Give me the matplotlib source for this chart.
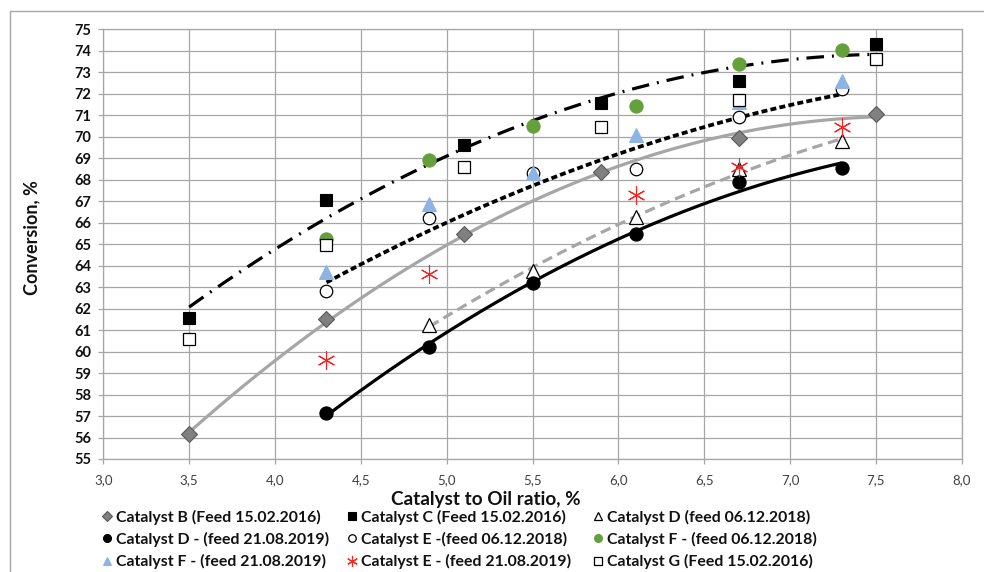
import numpy as np
import matplotlib
matplotlib.use("Agg")
import matplotlib.pyplot as plt
from matplotlib.lines import Line2D

plt.rcParams['font.family'] = ['Lato', 'DejaVu Sans']

# ---- data ----
x_six_a = [3.5, 4.3, 5.1, 5.9, 6.7, 7.5]
x_six_b = [4.3, 4.9, 5.5, 6.1, 6.7, 7.3]
b_y = [56.15, 61.5, 65.45, 68.35, 69.95, 71.05]
c_y = [61.55, 67.05, 69.6, 71.55, 72.6, 74.3]
g_y = [60.6, 64.95, 68.6, 70.45, 71.7, 73.6]
d06_x = [4.9, 5.5, 6.1, 6.7, 7.3]
d06_y = [61.25, 63.75, 66.25, 68.5, 69.8]
d21_y = [57.15, 60.2, 63.2, 65.45, 67.9, 68.55]
e06_y = [62.8, 66.2, 68.3, 68.5, 70.9, 72.2]
f06_y = [65.25, 68.9, 70.5, 71.45, 73.4, 74.05]
f21_y = [63.7, 66.85, 68.3, 70.1, 71.6, 72.6]
e21_x = [4.3, 4.9, 6.1, 6.7, 7.3]
e21_y = [59.6, 63.6, 67.3, 68.6, 70.45]

labels = ["Catalyst B (Feed 15.02.2016)", "Catalyst C (Feed 15.02.2016)",
          "Catalyst D (feed 06.12.2018)", "Catalyst D - (feed 21.08.2019)",
          "Catalyst E -(feed 06.12.2018)", "Catalyst F - (feed 06.12.2018)",
          "Catalyst F - (feed 21.08.2019)", "Catalyst E - (feed 21.08.2019)",
          "Catalyst G (Feed 15.02.2016)"]
x_ticks = [3.0, 3.5, 4.0, 4.5, 5.0, 5.5, 6.0, 6.5, 7.0, 7.5, 8.0]
y_ticks = list(range(55, 76))

W, H = 984, 572
fig = plt.figure(figsize=(W / 100, H / 100), dpi=100)
ax = fig.add_axes([103.3 / W, 1 - 459 / H, (961.7 - 103.3) / W, (459 - 29.3) / H])

GRID = '#a6a6a6'
LGRAY = '#a6a6a6'
TXT = '#111111'

# ---- trend lines (2nd order polynomial fits) ----
def trend(xs, ys, **kw):
    p = np.polyfit(xs, ys, 2)
    xx = np.linspace(min(xs), max(xs), 200)
    ax.plot(xx, np.polyval(p, xx), zorder=2, **kw)

trend(x_six_a, b_y, color=LGRAY, lw=2.3, solid_capstyle='butt')
trend(x_six_a, c_y, color='black', lw=2.3, linestyle=(0, (5.5, 2.5, 0.6, 2.5)), dash_capstyle='butt')
trend(d06_x, d06_y, color=LGRAY, lw=2.3, linestyle=(0, (3.3, 1.8)), dash_capstyle='butt')
trend(x_six_b, d21_y, color='black', lw=2.3, solid_capstyle='butt')
trend(x_six_b, e06_y, color='black', lw=2.7, linestyle=(0, (1.6, 0.85)), dash_capstyle='butt')

# ---- markers ----
styles = [
    dict(marker='D', ms=7.8, mfc='#808080', mec='#595959', mew=0.8),
    dict(marker='s', ms=9, mfc='black', mec='black', mew=0.8),
    dict(marker='^', ms=10, mfc='white', mec='black', mew=0.9),
    dict(marker='o', ms=9.5, mfc='black', mec='black', mew=0.8),
    dict(marker='o', ms=9, mfc='white', mec='black', mew=0.9),
    dict(marker='o', ms=9.5, mfc='#64a03c', mec='#64a03c', mew=0.8),
    dict(marker='^', ms=10.5, mfc='#8db4e2', mec='#8db4e2', mew=0.8),
    dict(marker=(6, 2, 0), ms=13, mfc='#ff2020', mec='#ff2020', mew=0.8),
    dict(marker='s', ms=9, mfc='white', mec='black', mew=0.9),
]
series = [(x_six_a, b_y), (x_six_a, c_y), (d06_x, d06_y), (x_six_b, d21_y),
          (x_six_b, e06_y), (x_six_b, f06_y), (x_six_b, f21_y), (e21_x, e21_y),
          (x_six_a, g_y)]
for (xs, ys), st in zip(series, styles):
    ax.plot(xs, ys, linestyle='none', zorder=3, **st)

# ---- axes ----
ax.set_xlim(3, 8)
ax.set_ylim(55, 75)
ax.set_xticks(x_ticks)
ax.set_xticklabels([f"{v:.1f}".replace('.', ',') for v in x_ticks])
ax.set_yticks(y_ticks)
ax.set_yticklabels([str(v) for v in y_ticks])
ax.grid(True, color=GRID, lw=0.9)
ax.set_axisbelow(True)
for s in ax.spines.values():
    s.set_color(GRID)
    s.set_linewidth(0.9)
ax.tick_params(axis='both', direction='out', length=3.8, width=0.9, color=GRID)
ax.tick_params(axis='y', pad=5, labelsize=10.5, labelcolor=TXT)
ax.tick_params(axis='x', pad=7, labelsize=9.5, labelcolor='#404040')
for t in ax.get_yticklabels():
    t.set_fontweight('bold')

fig.text(31.7 / W, 1 - 238 / H, "Conversion, %", rotation=90, ha='center', va='center',
         fontsize=13, fontweight='bold', color=TXT)
fig.text(486 / W, 1 - 499.3 / H, "Catalyst to Oil ratio, %", ha='center', va='center',
         fontsize=13.6, fontweight='bold', color=TXT)

# ---- legend (3 x 3, row-major like the original) ----
col_x = [106.7, 351.7, 598.3]
row_y = [517.3, 539.3, 561.7]
fs = 11.4
for i, (lab, st) in enumerate(zip(labels, styles)):
    r, c = divmod(i, 3)
    st2 = dict(st)
    st2['ms'] = st['ms'] * 0.6
    h = Line2D([], [], linestyle='none', **st2)
    hl = 0.7
    left = col_x[c] - hl * fs * (100 / 72) / 2
    leg = fig.legend([h], [lab], loc='center left',
                     bbox_to_anchor=(left / W, 1 - row_y[r] / H),
                     frameon=False, fontsize=fs, handlelength=hl, handletextpad=0.22,
                     borderpad=0, borderaxespad=0)
    for t in leg.get_texts():
        t.set_fontweight('bold')
        t.set_color(TXT)

# ---- outer chart border ----
fig.add_artist(Line2D([10 / W, 10 / W, 1], [0, 1 - 11 / H, 1 - 11 / H],
                      transform=fig.transFigure, color=GRID, lw=1))

fig.savefig("out.png", dpi=100)
